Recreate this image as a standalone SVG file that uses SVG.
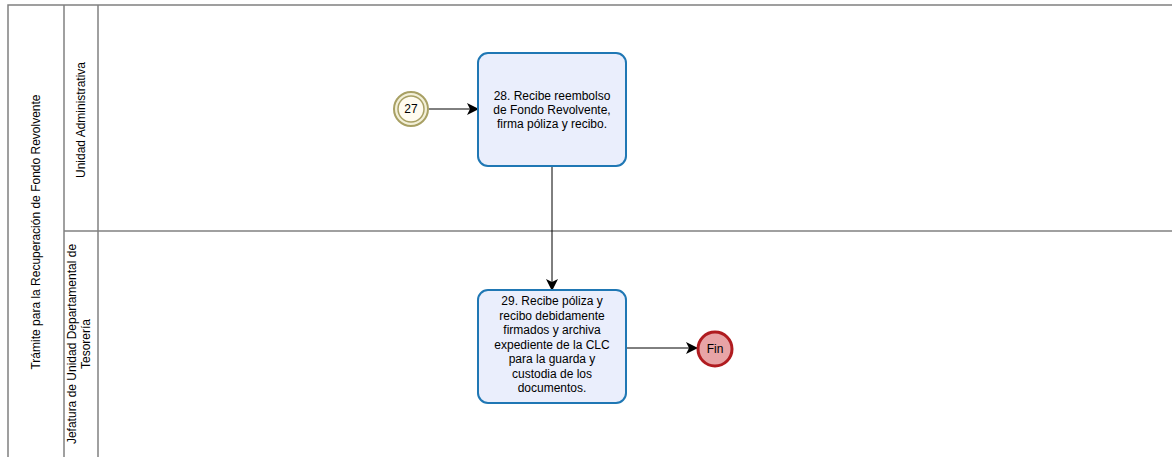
<svg xmlns="http://www.w3.org/2000/svg" width="1172" height="457" viewBox="0 0 1172 457">
<defs>
<style>
.lane{fill:none;stroke:#808080;stroke-width:1.5}
.t{font-family:"Liberation Sans",Arial,sans-serif;font-size:12px;fill:#000;text-anchor:middle}
.task{fill:#eaeefc;stroke:#1f77b4;stroke-width:2}
.conn{fill:none;stroke:#000;stroke-width:1}
</style>
<marker id="arr" markerWidth="12" markerHeight="12" refX="11" refY="6" orient="auto" markerUnits="userSpaceOnUse">
<path d="M0,0 L12,6 L0,12 L3,6 Z" fill="#000"/>
</marker>
</defs>
<rect width="1172" height="457" fill="#fff"/>
<g id="pool">
<path class="lane" d="M1172,5 H8 V457"/>
<line class="lane" x1="64" y1="5" x2="64" y2="457"/>
<line class="lane" x1="98" y1="5" x2="98" y2="457"/>
<line class="lane" x1="64" y1="231" x2="1172" y2="231"/>
<text class="t" transform="translate(40,232) rotate(-90)">Trámite para la Recuperación de Fondo Revolvente</text>
<text class="t" transform="translate(85,120) rotate(-90)">Unidad Administrativa</text>
<text class="t" transform="translate(76,344) rotate(-90)">Jefatura de Unidad Departamental de</text>
<text class="t" transform="translate(90,344) rotate(-90)">Tesorería</text>
</g>
<g id="connectors">
<line class="conn" x1="429" y1="109" x2="478" y2="109" marker-end="url(#arr)"/>
<line class="conn" x1="552" y1="167" x2="552" y2="290" marker-end="url(#arr)"/>
<line class="conn" x1="626" y1="348" x2="697" y2="348" marker-end="url(#arr)"/>
</g>
<g id="start27">
<circle cx="411" cy="109" r="17" fill="#f3f0d8" stroke="#a8a064" stroke-width="2"/>
<circle cx="411" cy="109" r="13" fill="#fffbef" stroke="#a8a064" stroke-width="1.5"/>
<text class="t" x="411" y="113">27</text>
</g>
<g id="task28">
<rect class="task" x="478" y="53" width="148" height="113" rx="10"/>
<text class="t" x="552" y="100">28. Recibe reembolso</text>
<text class="t" x="552" y="114">de Fondo Revolvente,</text>
<text class="t" x="552" y="128">firma póliza y recibo.</text>
</g>
<g id="task29">
<rect class="task" x="478" y="290" width="148" height="113" rx="10"/>
<text class="t" x="552" y="305">29. Recibe póliza y</text>
<text class="t" x="552" y="319.5">recibo debidamente</text>
<text class="t" x="552" y="334">firmados y archiva</text>
<text class="t" x="552" y="348.5">expediente de la CLC</text>
<text class="t" x="552" y="363">para la guarda y</text>
<text class="t" x="552" y="377.5">custodia de los</text>
<text class="t" x="552" y="392">documentos.</text>
</g>
<g id="fin">
<circle cx="715" cy="349" r="17" fill="#e8a4a6" stroke="#b01c20" stroke-width="3"/>
<text class="t" x="715" y="353">Fin</text>
</g>
</svg>
